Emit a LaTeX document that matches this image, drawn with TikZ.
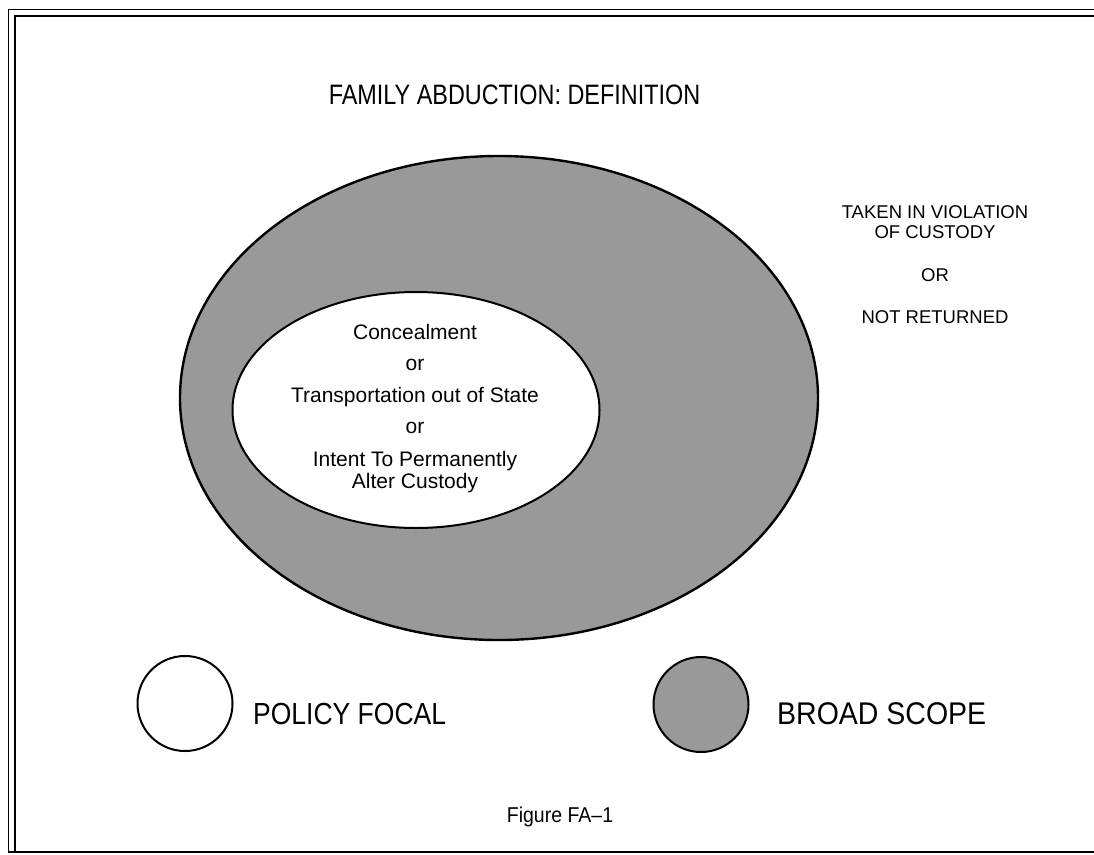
\documentclass[tikz,border=0pt]{standalone}
\usepackage{fontspec}
\setmainfont{Liberation Sans}
\usepackage{graphicx}
\usetikzlibrary{shapes.geometric}
\newcommand{\vstretch}[2]{\scalebox{1}[#1]{#2}}
\begin{document}
\begin{tikzpicture}[x=1pt,y=-1pt,
  shaded/.style={fill=black!40},
  txt/.style={inner sep=0pt, anchor=base, text=black},
  inner/.style={txt, font=\fontsize{21}{25}\selectfont},
  side/.style={txt, font=\fontsize{18.5}{22}\selectfont},
  legend/.style={txt, anchor=base west, font=\fontsize{26.5}{31}\selectfont},
  keycircle/.style={draw, circle, line width=2pt, minimum size=95pt, inner sep=0pt},
]
\useasboundingbox (0,0) rectangle (1094,854);
\fill[white] (0,0) rectangle (1094,854);
% frame
\draw[line width=1.4pt] (1094,9.5) -- (8.5,9.5) -- (8.5,852) -- (1094,852);
\draw[line width=2pt] (1094,15.5) -- (14.5,15.5) -- (14.5,852);

% title
\node[txt, font=\fontsize{23.4}{28}\selectfont] (title) at (514.5,104) {\vstretch{1.2}{FAMILY ABDUCTION: DEFINITION}};

% ellipses
\node[draw, ellipse, line width=2.4pt, shaded, minimum width=638pt, minimum height=484pt, inner sep=0pt] (broad) at (499,398) {};
\node[draw, ellipse, line width=2pt, fill=white, minimum width=367pt, minimum height=236pt, inner sep=0pt] (focal) at (416,410) {};

% inner text
\node[inner] (t1) at (415,339) {Concealment};
\node[inner] (t2) at (415,370) {or};
\node[inner] (t3) at (415,402) {Transportation out of State};
\node[inner] (t4) at (415,433) {or};
\node[inner] (t5) at (415,466) {Intent To Permanently};
\node[inner] (t6) at (415,488) {Alter Custody};

% side text
\node[side] (s1) at (935,218) {TAKEN IN VIOLATION};
\node[side] (s2) at (935,238) {OF CUSTODY};
\node[side] (s3) at (935,281) {OR};
\node[side] (s4) at (935,323) {NOT RETURNED};

% legend
\node[keycircle, fill=white] (focalkey) at (185,703.5) {};
\node[legend] (focallabel) at (253,724) {\vstretch{1.15}{POLICY FOCAL}};
\node[keycircle, shaded] (broadkey) at (701,704.5) {};
\node[legend, font=\fontsize{28.5}{33}\selectfont] (broadlabel) at (777,724) {\vstretch{1.1}{BROAD SCOPE}};

% caption
\node[txt, font=\fontsize{19.5}{23}\selectfont] (caption) at (560,822) {\vstretch{1.1}{Figure FA–1}};
\end{tikzpicture}
\end{document}
